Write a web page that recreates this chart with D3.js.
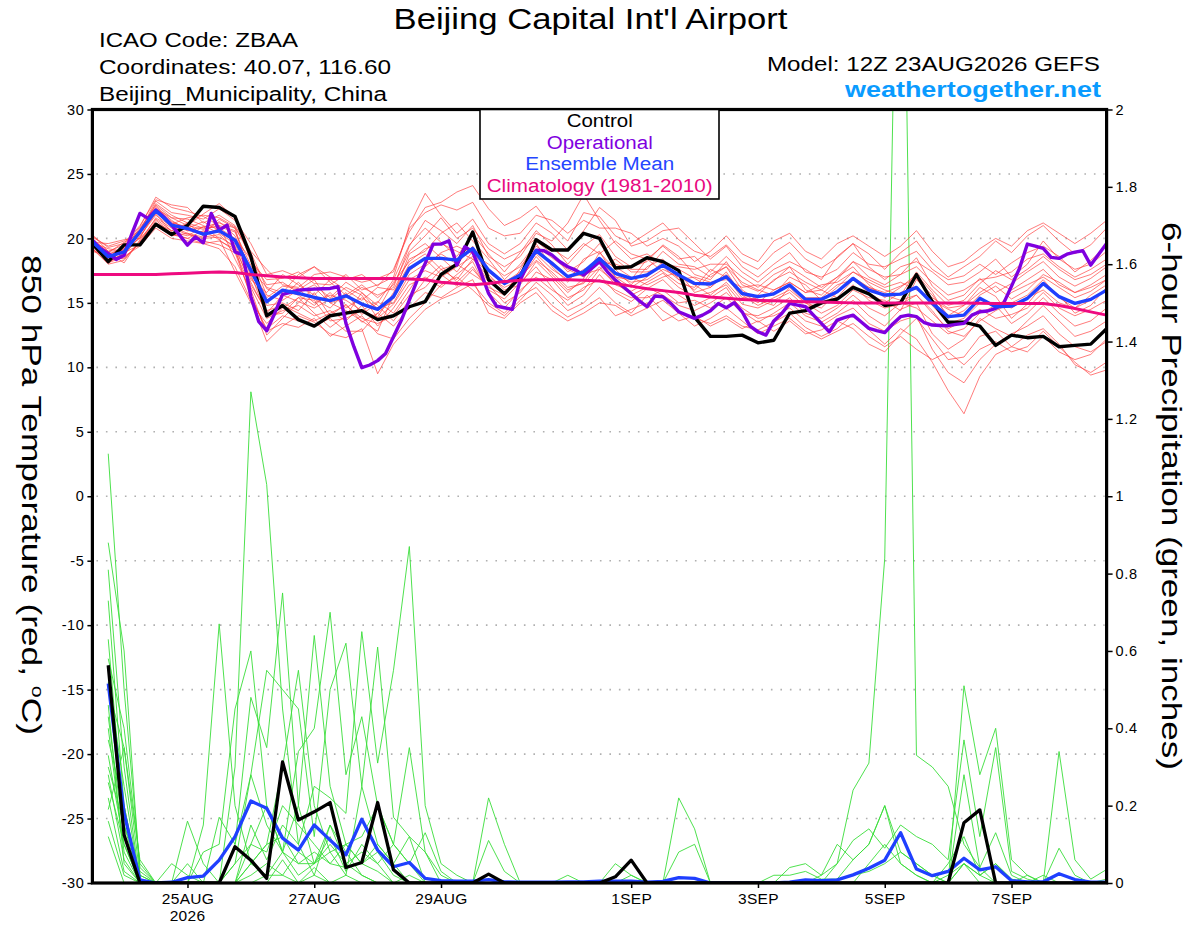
<!DOCTYPE html>
<html><head><meta charset="utf-8">
<script src="https://cdn.jsdelivr.net/npm/d3@7"></script>
<style>
body{margin:0;background:#fff}
svg{display:block}
text{font-family:"Liberation Sans",Arial,Helvetica,sans-serif}
</style>
</head><body>
<svg id="chart" width="1200" height="927"></svg>
<script>
// ---------------- DATA ----------------
const runStart = Date.UTC(2026, 7, 23, 12);   // 12Z 23AUG2026
const runEnd   = Date.UTC(2026, 8, 8, 12);    // 12Z 08SEP2026
const tickDates  = [Date.UTC(2026,7,25), Date.UTC(2026,7,27), Date.UTC(2026,7,29), Date.UTC(2026,8,1), Date.UTC(2026,8,3), Date.UTC(2026,8,5), Date.UTC(2026,8,7)];
const tickLabels = ["25AUG","27AUG","29AUG","1SEP","3SEP","5SEP","7SEP"];
const tempTicks   = [30,25,20,15,10,5,0,-5,-10,-15,-20,-25,-30];
const precipTicks = [0,0.2,0.4,0.6,0.8,1,1.2,1.4,1.6,1.8,2];

// 850 hPa temperature, 6-hourly from 12Z 23AUG
const controlTemp = [19.6,18.2,19.5,19.5,21.1,20.3,21.0,22.5,22.4,21.7,
  18.6,14.0,14.8,13.7,13.2,14.0,14.2,14.4,13.7,14.0,
  14.7,15.1,17.2,18.0,20.5,16.8,15.7,17.0,19.9,19.1,
  19.1,20.4,20.0,17.7,17.8,18.5,18.2,17.5,13.9,12.4,
  12.4,12.5,11.9,12.1,14.2,14.4,15.0,15.3,16.2,15.7,
  14.8,15.0,17.2,15.1,13.5,13.5,13.2,11.7,12.5,12.3,
  12.4,11.6,11.7,11.8,13.0];
// Operational run: 3-hourly
const operationalTemp = [19.87,19.22,18.84,18.37,18.7,20.4,21.94,21.55,22.2,21.68,
  21.03,20.26,19.48,20.13,19.66,21.94,20.64,21.03,18.96,18.71,
  15.48,13.54,12.84,14.18,15.66,15.81,15.99,16.04,16.07,16.1,
  16.12,16.25,13.41,11.6,9.97,10.18,10.52,11.08,12.38,13.67,
  15.22,16.77,18.06,19.56,19.56,19.82,17.93,19.35,18.96,17.4,
  15.73,14.75,14.62,14.5,16.77,18.06,19.09,19.04,18.71,18.19,
  17.8,17.54,17.16,17.67,18.19,17.41,16.77,16.25,15.73,15.17,
  14.7,15.53,15.48,14.96,14.31,14.05,13.8,14.05,14.39,14.96,
  14.62,15.01,14.31,13.2,12.76,12.5,13.6,14.18,14.96,14.83,
  14.7,14.05,13.41,12.76,13.67,13.87,14.05,13.54,13.02,12.84,
  12.69,13.36,13.93,14.05,13.93,13.46,13.28,13.25,13.23,13.33,
  13.41,14.05,14.31,14.37,14.57,14.96,16.3,17.67,19.56,19.4,
  19.22,18.53,18.45,18.78,18.94,19.04,17.93,18.78,19.61];
const meanTemp = [19.74,18.58,18.96,20.51,22.14,21.03,20.77,20.33,20.59,19.87,
  17.54,15.09,15.99,15.73,15.42,15.17,15.55,14.91,14.5,15.48,
  17.67,18.45,18.45,18.32,19.22,17.54,16.51,17.16,19.04,18.06,
  17.03,17.41,18.45,17.29,16.9,17.16,17.93,17.16,16.51,16.46,
  17.03,15.73,15.48,15.7,16.38,15.27,15.27,15.86,16.9,15.99,
  15.61,15.68,16.2,14.96,13.93,14.05,15.35,14.7,14.75,15.35,
  16.51,15.48,14.96,15.27,15.99];
const climoTemp = [17.2,17.2,17.2,17.2,17.2,17.25,17.3,17.35,17.4,17.35,
  17.2,17.1,17.0,16.95,16.9,16.9,16.9,16.9,16.9,16.9,
  16.85,16.8,16.6,16.5,16.4,16.5,16.65,16.75,16.8,16.8,
  16.8,16.75,16.7,16.5,16.3,16.1,15.95,15.8,15.6,15.45,
  15.35,15.27,15.2,15.17,15.12,15.09,15.06,15.03,15.0,15.0,
  15.0,15.0,15.0,15.0,15.0,15.0,14.98,14.96,14.96,14.96,
  14.96,14.8,14.57,14.3,14.05];
const memberTemps = [
 [20.1,19.4,19.8,20.6,22.9,22.0,21.8,21.5,22.3,21.4,19.6,17.2,17.5,17.0,17.8,17.0,16.8,17.2,16.3,17.6,20.5,22.4,22.8,23.6,24.1,22.3,21.0,21.6,22.5,20.9,19.8,22.0,21.7,20.2,19.6,20.4,21.2,19.9,19.0,18.6,19.5,18.2,17.6,18.9,19.7,18.4,17.7,18.5,19.6,18.8,17.6,18.9,19.8,18.1,17.0,17.8,18.6,19.8,18.9,20.2,21.0,19.8,18.8,19.5,20.8],
 [19.2,18.0,18.3,19.8,21.2,20.3,20.0,19.6,19.2,17.8,15.2,12.0,13.2,14.0,13.5,12.6,12.3,13.0,9.5,11.8,13.2,14.5,15.3,15.8,16.5,15.0,14.2,15.5,16.2,14.8,13.9,14.6,15.4,14.0,14.5,15.0,13.6,14.2,13.8,13.4,14.0,13.2,12.9,13.5,14.2,13.1,12.4,13.0,14.1,12.9,11.8,13.0,12.2,10.4,8.2,6.4,9.3,11.0,11.6,12.5,13.0,11.8,10.2,9.6,10.4],
 [19.6,18.8,19.2,20.8,22.5,21.4,20.6,20.9,21.2,20.8,18.9,16.1,15.5,16.6,15.3,14.6,15.8,14.1,15.0,16.8,19.5,20.8,19.7,18.6,20.3,18.8,17.4,18.9,20.6,19.5,18.0,19.4,20.3,18.6,17.8,18.2,19.5,18.6,17.2,16.8,18.2,16.4,15.9,16.7,17.8,16.0,15.6,16.8,18.2,17.0,16.4,17.2,18.5,16.3,15.2,15.6,16.9,15.8,16.5,17.4,18.2,17.0,16.3,16.9,17.8],
 [19.9,18.4,18.7,20.2,21.8,20.9,20.4,20.1,20.3,19.2,16.6,14.2,15.6,15.1,14.6,15.3,16.2,15.6,13.8,14.9,16.8,17.5,17.0,17.8,18.6,16.6,15.8,17.0,18.3,17.4,16.2,16.5,17.8,16.4,15.9,16.6,17.3,16.2,15.5,15.8,16.4,14.9,14.6,15.2,15.8,14.7,14.9,15.3,16.4,15.2,14.6,14.9,15.6,14.2,13.0,13.6,14.5,13.8,14.1,14.6,15.8,14.6,14.0,14.5,15.2],
 [20.3,19.0,19.5,20.9,23.2,22.4,22.1,21.7,21.0,18.4,16.0,12.5,13.8,15.0,16.2,15.0,14.4,13.6,12.8,15.6,18.8,19.6,18.5,17.4,19.0,17.2,16.0,16.4,18.2,17.0,15.8,16.9,18.9,17.6,16.4,17.8,18.4,16.8,16.0,17.2,17.8,16.0,15.2,14.8,16.2,15.0,14.2,14.8,16.0,15.4,15.2,14.4,16.8,15.6,14.0,14.8,16.2,15.5,13.8,14.9,16.4,15.6,14.2,14.8,16.2],
 [19.4,18.9,18.1,19.9,21.5,20.6,21.2,20.8,20.9,20.5,17.9,15.4,16.3,16.1,15.0,15.6,15.2,14.4,15.1,14.2,16.0,17.8,18.9,19.4,18.8,18.0,17.1,17.8,19.4,18.5,17.6,17.0,18.4,17.0,16.2,17.0,18.2,17.6,16.9,16.2,17.2,15.8,15.0,16.0,16.6,15.8,16.0,15.4,16.8,16.2,15.8,16.3,16.9,15.2,14.5,14.0,15.3,14.6,15.8,16.4,17.0,16.2,15.4,15.9,16.8],
 [19.0,18.6,18.9,20.4,21.9,20.5,20.2,20.9,20.0,17.4,15.0,13.4,14.6,15.4,14.2,13.1,14.0,15.8,14.8,13.6,15.2,16.8,17.9,16.6,17.8,16.0,15.3,16.6,17.8,16.2,14.8,15.6,17.2,15.8,15.1,16.1,16.8,15.6,14.8,15.4,16.2,14.3,13.5,14.2,15.0,14.0,13.5,14.2,15.2,14.0,13.2,14.5,15.0,12.6,11.4,12.2,13.8,13.0,12.4,13.6,14.8,13.6,12.4,12.8,13.6],
 [19.7,19.6,19.9,20.0,22.3,21.6,21.0,21.9,22.7,21.6,18.2,16.8,16.9,17.4,16.5,16.4,17.2,16.0,16.4,17.0,21.0,23.5,21.8,20.4,21.5,19.6,18.8,19.6,21.2,20.4,19.1,20.6,22.4,21.4,19.4,19.8,20.6,20.8,19.6,18.4,19.4,17.8,17.0,18.0,18.9,17.4,17.0,17.6,18.9,18.0,17.8,18.4,19.0,17.6,16.8,17.1,18.0,17.2,18.1,18.9,19.4,18.6,17.4,18.3,19.4],
 [19.5,18.2,18.8,20.1,22.0,21.2,20.9,20.4,21.5,20.8,17.0,14.8,15.0,14.4,15.8,14.0,14.9,13.5,14.2,15.3,17.5,18.4,17.2,16.3,17.6,16.2,15.6,17.6,19.8,18.8,17.4,18.2,19.6,18.0,17.6,17.6,19.0,18.0,17.8,17.0,17.8,16.6,16.0,15.6,17.0,16.4,15.2,16.2,17.4,16.6,16.0,15.6,17.4,16.0,14.8,15.2,16.5,17.5,16.8,17.6,18.6,17.6,16.8,17.2,18.0],
 [20.0,18.5,19.4,20.7,22.6,21.6,21.5,21.0,20.4,19.6,16.8,15.8,17.2,16.4,15.6,16.8,16.0,15.2,16.2,16.0,18.4,19.0,20.4,21.2,19.8,18.4,16.8,18.0,19.6,17.8,16.6,18.4,19.0,17.0,16.8,18.4,17.4,16.5,16.2,17.6,17.0,15.4,15.6,16.8,17.4,16.6,16.0,17.0,17.8,16.4,15.4,16.2,17.2,15.8,13.8,14.4,15.6,16.3,15.3,16.0,17.2,16.6,15.8,16.4,17.2],
 [19.3,18.3,18.5,19.6,21.0,20.2,20.4,19.8,19.5,18.9,15.6,12.8,13.4,13.1,13.8,12.4,13.2,14.0,12.6,12.2,13.8,15.0,16.4,17.0,16.0,14.8,14.0,15.2,16.6,15.6,14.4,15.0,16.2,15.0,14.2,15.6,14.4,13.6,14.0,13.2,13.8,13.0,13.6,12.8,13.6,12.6,12.9,13.6,13.0,11.8,11.2,12.6,13.8,12.2,10.6,10.8,12.4,12.8,11.6,11.2,12.4,11.2,10.6,11.0,12.2],
 [19.8,19.0,19.1,20.5,22.2,21.0,20.6,20.5,21.3,20.2,17.6,16.2,15.8,17.2,17.8,16.6,15.6,16.4,15.4,16.4,19.0,20.2,21.6,20.0,20.8,19.2,18.4,19.0,20.0,19.2,18.4,19.6,18.8,19.8,18.8,18.4,19.4,18.4,18.6,17.4,18.6,17.4,16.6,17.6,18.2,17.6,16.8,18.6,19.6,17.8,16.8,17.8,18.2,17.4,16.4,16.6,17.4,18.4,17.0,18.0,19.8,18.4,17.6,18.0,19.0],
 [19.6,18.1,18.9,19.5,21.4,20.4,20.0,20.6,19.9,19.0,16.2,13.8,14.4,14.8,14.0,14.4,13.6,14.8,13.2,14.6,16.4,17.0,16.2,17.2,18.2,15.8,14.6,16.0,17.0,16.0,15.2,16.2,16.8,16.0,15.4,15.4,16.0,15.0,15.2,14.6,15.4,14.2,14.0,14.6,15.4,14.2,13.8,14.6,15.6,14.6,14.0,15.0,14.6,13.6,12.6,13.0,14.2,14.8,13.4,14.2,15.4,14.2,13.2,13.6,14.6],
 [20.2,19.3,19.6,21.0,23.0,22.6,22.4,21.2,21.8,21.0,19.0,17.6,16.4,16.2,17.2,17.4,17.0,16.6,16.9,17.4,20.8,22.0,22.6,22.2,22.8,20.8,20.2,20.4,21.8,21.4,20.4,21.4,20.8,20.8,20.4,19.4,20.0,19.4,18.2,19.0,20.2,18.8,18.2,19.8,20.4,19.0,18.4,19.6,20.2,19.4,18.6,19.4,20.6,19.0,17.8,18.2,19.2,20.0,19.4,20.6,21.2,20.4,19.6,20.4,21.4],
 [19.5,18.7,19.3,20.3,22.4,21.3,20.8,21.3,20.6,19.8,17.4,15.0,16.0,15.6,14.8,15.8,14.6,15.4,14.6,15.0,17.2,18.0,18.8,18.0,19.4,17.6,16.6,17.4,18.8,17.6,16.8,17.6,18.2,17.2,16.6,16.8,17.6,17.0,16.4,15.6,16.6,15.2,15.4,15.8,16.4,15.4,15.4,16.4,16.8,15.8,15.0,15.8,16.2,14.8,13.4,13.8,15.0,15.0,14.6,15.4,16.0,15.0,14.6,15.6,16.4],
 [19.1,18.6,18.4,19.7,21.6,20.8,20.3,20.0,20.1,19.4,16.4,14.4,14.8,14.2,13.6,14.2,14.8,13.8,13.4,14.0,15.6,16.2,17.6,18.0,17.2,16.4,15.0,15.8,17.4,16.8,15.4,16.0,17.6,16.6,15.6,16.2,15.6,14.8,14.4,15.0,15.8,14.6,13.8,14.0,14.6,13.6,13.2,14.0,14.6,13.4,12.8,13.6,14.0,11.4,9.6,8.8,10.6,11.8,12.6,13.2,14.0,12.6,11.6,11.2,12.0],
 [19.7,19.2,19.0,20.6,22.7,21.8,21.2,20.2,20.8,20.0,18.4,16.4,16.6,15.8,16.4,15.4,16.6,15.8,14.4,16.6,18.2,19.2,19.6,19.0,18.4,17.4,16.4,17.2,19.0,18.2,17.0,17.2,17.6,18.4,17.4,17.4,17.8,16.8,17.0,16.6,16.8,16.2,16.4,16.0,16.6,15.8,16.4,16.6,17.4,16.8,16.2,16.6,16.0,15.4,14.6,14.8,15.8,16.6,16.0,16.8,17.6,16.4,15.8,16.2,16.8],
 [19.4,18.4,19.2,20.0,21.2,20.6,21.0,20.7,21.0,20.6,17.2,14.0,14.2,15.4,15.2,13.6,13.8,14.4,13.9,15.8,18.0,18.8,17.6,16.8,18.4,17.0,16.2,16.8,18.6,17.2,16.0,16.6,18.4,17.8,17.0,16.4,17.0,17.4,15.8,16.2,17.4,15.6,14.8,15.4,16.0,15.0,14.6,15.8,17.0,16.2,15.6,15.2,15.6,14.4,12.8,12.4,13.6,14.4,15.0,15.6,16.8,15.4,14.6,15.2,16.0],
 [20.0,18.9,19.7,20.4,22.1,21.1,21.6,21.8,21.6,20.9,18.6,15.6,15.2,16.0,16.8,15.0,15.4,16.2,15.6,16.2,19.4,21.4,20.6,19.6,21.0,18.6,17.8,18.6,20.4,19.8,21.2,23.4,21.4,19.6,18.4,18.8,18.0,17.8,17.6,18.0,18.0,17.0,16.2,17.2,17.8,17.0,16.2,17.0,18.2,17.6,17.0,17.2,17.8,16.6,15.6,16.0,16.8,17.0,17.4,18.4,18.8,17.8,17.0,17.6,18.4],
 [19.2,18.1,18.6,19.4,20.8,20.0,19.8,19.6,19.8,19.2,15.4,13.0,14.0,13.6,13.2,13.8,12.8,12.8,14.2,13.2,14.6,15.8,15.4,16.2,16.8,14.2,13.8,15.0,15.8,14.4,13.6,14.2,15.0,14.8,14.0,14.6,15.2,14.2,13.2,13.8,14.6,13.6,12.6,13.2,13.8,12.8,12.2,12.8,13.4,12.4,11.6,12.4,11.4,10.6,11.2,10.2,11.4,12.0,11.2,11.6,12.8,11.6,10.4,9.4,9.8]
];

// 6-hour precipitation (inches), 6-hourly from 18Z 23AUG
const controlPrecip = [0.563,0.124,0,0,0,0,0,0, 0.094,0.059,0.012,0.313,0.163,0.184,0.208,0.04,
  0.053,0.208,0.034,0,0,0,0,0, 0.023,0,0,0,0,0,0,0, 0.016,0.059,0,0,0,0,0,0,
  0,0,0,0,0,0,0,0, 0,0,0,0,0,0,0.156,0.189, 0,0,0,0,0,0,0,0];
const meanPrecip = [0.516,0.18,0.008,0,0.002,0.014,0.018,0.059, 0.12,0.212,0.193,0.116,0.085,0.15,0.111,0.073,
  0.165,0.085,0.042,0.053,0.012,0.006,0.005,0.005, 0.009,0.003,0.002,0.002,0.002,0.003,0.003,0.005,
  0.005,0.005,0.002,0.004,0.014,0.012,0,0, 0,0,0,0.002,0.008,0.006,0.008,0.021,
  0.038,0.059,0.13,0.036,0.019,0.03,0.064,0.034, 0.042,0.006,0.003,0.003,0.024,0.009,0.002,0.002];
const memberPrecip = [
 [1.11,0.50,0.04,0,0,0,0,0, 0,0.10,0.20,0.08,0.02,0.05,0.12,0.03, 0.10,0.05,0,0.02,0,0,0,0, 0,0,0,0,0,0,0,0, 0,0,0,0,0,0,0,0, 0,0,0,0,0,0,0.01,0.02, 0.03,0.05,0.08,0.05,0.02,0,0.05,0.02, 0,0,0,0,0,0,0,0],
 [0.88,0.60,0.02,0,0,0.16,0.05,0, 0.30,1.27,1.03,0.45,0.10,0.02,0.15,0.08, 0.02,0,0,0,0,0,0,0, 0,0,0,0,0,0,0,0, 0,0,0,0,0,0,0,0, 0,0,0,0,0,0,0,0, 0,0,0,0,0,0,0,0, 0,0,0,0,0,0,0,0],
 [0.81,0.30,0,0,0,0,0.15,0.67, 0.20,0.05,0.10,0.30,0.55,0.20,0.08,0.02, 0.25,0.10,0.05,0,0,0,0,0, 0.22,0.10,0,0,0,0,0,0, 0,0,0,0,0.22,0.14,0,0, 0,0,0,0,0,0,0,0, 0,0,0,0,0,0,0,0, 0,0,0,0,0,0,0,0],
 [0.73,0.20,0,0,0.05,0.02,0,0.17, 0.10,0.48,0.35,0.75,0.20,0.64,0.25,0.10, 0.05,0.03,0,0,0,0,0,0, 0,0,0,0,0,0,0,0, 0,0,0,0,0,0,0,0, 0,0,0,0,0,0.02,0.05,0.24, 0.31,0.84,3.10,0.33,0.30,0.25,0.10,0.04, 0,0,0,0,0,0,0,0],
 [0.63,0.15,0.03,0,0,0,0.08,0.10, 0.45,0.60,0.20,0.08,0.34,0.40,0.70,0.28, 0.43,0.20,0.10,0.05,0.13,0.03,0,0, 0,0,0,0,0,0,0,0, 0,0,0,0,0,0,0,0, 0,0,0,0,0,0,0,0, 0,0,0,0,0,0,0,0, 0,0,0,0,0,0,0,0],
 [0.58,0.40,0.05,0,0,0,0,0, 0.05,0.28,0.55,0.50,0.45,0.12,0.50,0.62, 0.25,0.61,0.17,0.12,0.08,0.02,0,0, 0,0,0,0,0,0,0,0, 0,0,0,0,0,0,0,0, 0,0,0,0,0,0,0,0, 0,0,0,0,0,0,0.51,0.28, 0.40,0.06,0.02,0,0.34,0.06,0.01,0.035],
 [0.52,0.25,0,0,0,0,0,0, 0,0.15,0.06,0.15,0.10,0.25,0.22,0.18, 0.65,0.31,0.55,0.87,0.20,0.05,0.02,0, 0,0,0,0,0,0,0,0, 0,0,0,0,0,0,0,0, 0,0,0,0,0,0,0,0, 0,0,0,0,0,0,0,0, 0,0,0,0,0,0,0,0],
 [0.46,0.05,0,0,0,0,0,0, 0,0,0.02,0.08,0.05,0.05,0.08,0.10, 0.12,0.20,0.10,0.35,0.08,0,0,0, 0.11,0.03,0,0,0,0,0,0, 0,0,0,0,0,0,0,0, 0,0,0,0,0,0,0.05,0.11, 0.14,0.09,0.15,0.12,0.10,0.06,0.37,0.12, 0.35,0.03,0.01,0,0.09,0.02,0,0.01],
 [0.43,0.12,0,0,0,0,0,0, 0,0,0,0,0,0,0,0, 0,0,0,0,0,0,0,0, 0,0,0,0,0,0,0,0, 0,0,0,0,0,0,0,0, 0,0,0,0.04,0.05,0.02,0.10,0.06, 0.10,0.20,0.08,0.05,0.02,0,0.28,0.04, 0.13,0.02,0,0,0,0,0,0],
 [0.40,0.08,0,0,0,0,0,0, 0.05,0.10,0.08,0.20,0.15,0.10,0.05,0.10, 0.05,0.10,0.05,0.12,0,0,0,0, 0,0,0,0,0,0,0,0, 0.05,0.02,0,0,0.08,0.10,0,0, 0,0,0,0,0,0,0,0, 0,0,0,0,0,0,0,0, 0,0,0,0,0,0,0,0],
 [0.37,0.20,0,0,0,0.05,0,0, 0,0,0,0,0,0.02,0,0, 0,0,0,0,0,0,0,0, 0,0,0,0,0,0,0,0, 0,0,0,0,0,0,0,0, 0,0,0.02,0.02,0.03,0.01,0.01,0.06, 0.10,0.20,0.05,0.02,0,0,0.05,0.02, 0.05,0.01,0,0,0,0,0,0],
 [0.33,0.10,0,0,0,0,0,0, 0.10,0.28,0.15,0.08,0.20,0.05,0.15,0.05, 0.08,0.05,0.10,0.05,0,0,0,0, 0,0,0,0,0,0,0,0, 0,0,0,0,0,0,0,0, 0,0,0,0,0,0,0,0, 0,0,0,0,0,0,0,0, 0,0,0,0,0,0,0,0],
 [0.28,0.06,0,0,0,0,0,0, 0,0,0,0,0,0,0,0, 0,0,0,0,0,0,0,0, 0,0,0,0,0,0.02,0,0, 0,0,0,0,0,0,0,0, 0,0,0,0,0,0,0,0, 0,0,0,0,0,0,0,0, 0,0,0,0,0,0,0,0],
 [0.26,0.10,0,0,0,0,0,0, 0,0.05,0.10,0.12,0.05,0.08,0.05,0.04, 0.05,0.08,0.02,0,0,0,0,0, 0,0,0,0,0,0,0,0, 0,0,0,0,0,0,0,0, 0,0,0,0,0,0,0,0, 0,0,0,0,0,0,0,0, 0,0,0,0,0,0,0,0],
 [0.22,0.03,0,0,0,0,0,0, 0,0,0,0,0,0,0,0, 0,0,0,0,0,0,0,0, 0,0,0,0,0,0,0,0, 0,0,0,0,0,0,0,0, 0,0,0,0,0,0,0,0, 0,0,0,0,0,0,0,0, 0,0,0.02,0,0,0,0,0],
 [0.19,0.35,0.02,0,0,0,0,0, 0,0.02,0.05,0.02,0.08,0.05,0.10,0.05, 0.02,0,0,0,0,0,0,0, 0,0,0,0,0,0,0,0, 0,0,0,0,0,0,0,0, 0,0,0,0,0,0,0,0, 0,0,0,0,0,0,0,0, 0,0,0,0,0,0,0,0],
 [0.16,0.02,0,0,0,0,0,0, 0,0,0,0,0,0,0,0, 0,0,0,0,0,0,0,0, 0,0,0,0,0,0,0,0, 0,0.02,0,0,0,0,0,0, 0,0,0,0,0,0,0,0, 0,0,0,0,0,0,0,0, 0,0,0,0,0,0,0,0],
 [0.12,0,0,0,0,0,0,0, 0,0,0,0,0,0,0,0, 0,0,0,0,0,0,0,0, 0,0,0,0,0,0,0,0, 0,0,0,0,0,0,0,0, 0,0,0,0,0,0,0,0, 0,0,0,0,0,0.05,0.12,0.02, 0.05,0.01,0,0.02,0,0,0,0],
 [0.30,0.15,0,0,0,0,0,0, 0,0,0,0.06,0,0.04,0,0.02, 0,0,0,0,0,0,0,0, 0,0,0,0,0,0,0,0, 0,0,0,0,0,0,0,0, 0,0,0,0,0,0,0,0, 0.05,0.10,0.05,0.02,0,0.02,0.05,0, 0,0,0,0,0,0,0,0],
 [0.50,0.35,0.06,0,0,0,0,0, 0,0.05,0.02,0.02,0,0,0,0, 0,0,0,0,0,0,0,0, 0,0,0,0,0,0,0,0, 0,0,0,0,0,0,0,0, 0,0,0,0,0,0,0,0, 0,0,0,0,0,0,0,0, 0,0,0,0,0,0,0,0]
];

const legendItems = ["Control","Operational","Ensemble Mean","Climatology (1981-2010)"];

// ---------------- DRAW ----------------
const svg = d3.select("#chart");
const L = 92.4, R = 1106.6, T = 109.5, B = 883;
const HOUR = 3600e3;
const times6 = controlTemp.map((_, i) => new Date(runStart + i * 6 * HOUR));
const times3 = operationalTemp.map((_, k) => new Date(runStart + k * 3 * HOUR));
const timesP = controlPrecip.map((_, i) => new Date(runStart + (i + 1) * 6 * HOUR));

const x  = d3.scaleUtc().domain([new Date(runStart), new Date(runEnd)]).range([L, R]);
const yT = d3.scaleLinear().domain([-30, 30]).range([B, T]);
const yP = d3.scaleLinear().domain([0, 2]).range([B, T]);

svg.append("rect").attr("width",1200).attr("height",927).attr("fill","#fff");
svg.append("defs").append("clipPath").attr("id","plotclip")
  .append("rect").attr("x",L).attr("y",T).attr("width",R-L).attr("height",B-T);

// gridlines
svg.append("g").selectAll("line").data(tempTicks.filter(v => v !== 30 && v !== -30)).join("line")
  .attr("x1", L+4).attr("x2", R-2).attr("y1", d => yT(d)).attr("y2", d => yT(d))
  .attr("stroke","#b0b0b0").attr("stroke-width",1.6).attr("stroke-dasharray","1.6 7.9");

const plot = svg.append("g").attr("clip-path","url(#plotclip)");
const lineT6 = d3.line().x((d,i) => x(times6[i])).y(d => yT(d));
const lineT3 = d3.line().x((d,i) => x(times3[i])).y(d => yT(d));
const lineP  = d3.line().x((d,i) => x(timesP[i])).y(d => yP(d));

// precipitation members
plot.append("g").selectAll("path").data(memberPrecip).join("path")
  .attr("d", lineP).attr("fill","none").attr("stroke","#3ade3a").attr("stroke-width",0.9);
// temperature members
plot.append("g").selectAll("path").data(memberTemps).join("path")
  .attr("d", lineT6).attr("fill","none").attr("stroke","#ff3c3c").attr("stroke-width",0.9).attr("stroke-opacity",0.75);
// precipitation mean & control
plot.append("path").datum(meanPrecip).attr("d", lineP).attr("fill","none")
  .attr("stroke","#1f3fff").attr("stroke-width",3.3).attr("stroke-linejoin","round");
plot.append("path").datum(controlPrecip).attr("d", lineP).attr("fill","none")
  .attr("stroke","#000").attr("stroke-width",3.3).attr("stroke-linejoin","round");
// temperature control, operational, mean, climatology
plot.append("path").datum(controlTemp).attr("d", lineT6).attr("fill","none")
  .attr("stroke","#000").attr("stroke-width",3.4).attr("stroke-linejoin","round");
plot.append("path").datum(operationalTemp).attr("d", lineT3).attr("fill","none")
  .attr("stroke","#7f00df").attr("stroke-width",3.4).attr("stroke-linejoin","round");
plot.append("path").datum(meanTemp).attr("d", lineT6).attr("fill","none")
  .attr("stroke","#1f3fff").attr("stroke-width",3.4).attr("stroke-linejoin","round");
plot.append("path").datum(climoTemp).attr("d", lineT6).attr("fill","none")
  .attr("stroke","#ee0a80").attr("stroke-width",3).attr("stroke-linejoin","round");

// axes
const axL = svg.append("g").attr("transform",`translate(${L},0)`)
  .call(d3.axisLeft(yT).tickValues(tempTicks).tickSize(5).tickPadding(3).tickFormat(d => String(d)));
const axR = svg.append("g").attr("transform",`translate(${R},0)`)
  .call(d3.axisRight(yP).tickValues(precipTicks).tickSize(6).tickPadding(3).tickFormat(d => String(+d.toFixed(1))));
const axB = svg.append("g").attr("transform",`translate(0,${B})`)
  .call(d3.axisBottom(x).tickValues(tickDates.map(d => new Date(d))).tickSize(5).tickPadding(5).tickFormat((d,i) => tickLabels[i]));
[axL, axR, axB].forEach(g => {
  g.select(".domain").remove();
  g.selectAll(".tick line").attr("stroke","#000").attr("stroke-width",1.5);
  g.selectAll(".tick text").attr("fill","#000").style("font-size","14.5px")
    .style("font-family",'"Liberation Sans",Arial,sans-serif').style("letter-spacing","0.6px");
});
axB.selectAll(".tick text").style("font-size","15.5px").style("letter-spacing","0.3px");
axB.append("text").attr("x", x(new Date(tickDates[0]))).attr("y", 38)
  .attr("text-anchor","middle").attr("fill","#000").style("font-size","15.5px").style("letter-spacing","0.3px").text("2026");

// frame
svg.append("rect").attr("x",L).attr("y",T).attr("width",R-L).attr("height",B-T)
  .attr("fill","none").attr("stroke","#000").attr("stroke-width",3.2);

// legend
const lg = svg.append("g");
lg.append("rect").attr("x",480).attr("y",T).attr("width",239).attr("height",89.5)
  .attr("fill","#fff").attr("stroke","#000").attr("stroke-width",1.6);
const legendColors = ["#000","#7f00df","#2446ff","#e8087f"];
const legendWidths = [66,106,149,226];
const legendBase = [127,148.5,170,191.5];
legendItems.forEach((t,i) => {
  lg.append("text").attr("x",599.7 - legendWidths[i]/2).attr("y",legendBase[i])
    .attr("textLength",legendWidths[i]).attr("lengthAdjust","spacingAndGlyphs")
    .attr("fill",legendColors[i]).style("font-size","18px").text(t);
});

// titles
function txt(str, x0, y0, size, width, opts = {}) {
  const t = svg.append("text").attr("x",x0).attr("y",y0).style("font-size",size+"px")
    .attr("fill", opts.fill || "#000").text(str);
  if (width) t.attr("textLength",width).attr("lengthAdjust","spacingAndGlyphs");
  if (opts.bold) t.style("font-weight","bold");
  return t;
}
txt("Beijing Capital Int'l Airport", 393.5, 29, 29, 394);
txt("ICAO Code: ZBAA", 99, 47, 19.5, 199);
txt("Coordinates: 40.07, 116.60", 99, 74, 19.5, 292);
txt("Beijing_Municipality, China", 99, 100.5, 19.5, 288);
txt("Model: 12Z 23AUG2026 GEFS", 767, 71, 19.5, 333);
txt("weathertogether.net", 845, 97, 22, 256, {bold:true, fill:"#0a9bff"});

// axis titles (rotated, reading top to bottom)
const lt = svg.append("text").attr("transform","translate(22,495) rotate(90)")
  .attr("text-anchor","middle").style("font-size","28px").attr("fill","#000")
  .attr("textLength",480).attr("lengthAdjust","spacingAndGlyphs");
lt.append("tspan").text("850 hPa Temperature (red, ");
lt.append("tspan").attr("dy",-10).style("font-size","17px").text("o");
lt.append("tspan").attr("dy",10).text("C)");
svg.append("text").attr("transform","translate(1162,496) rotate(90)")
  .attr("text-anchor","middle").style("font-size","28px").attr("fill","#000")
  .attr("textLength",548).attr("lengthAdjust","spacingAndGlyphs")
  .text("6-hour Precipitation (green, inches)");
</script>
</body></html>
